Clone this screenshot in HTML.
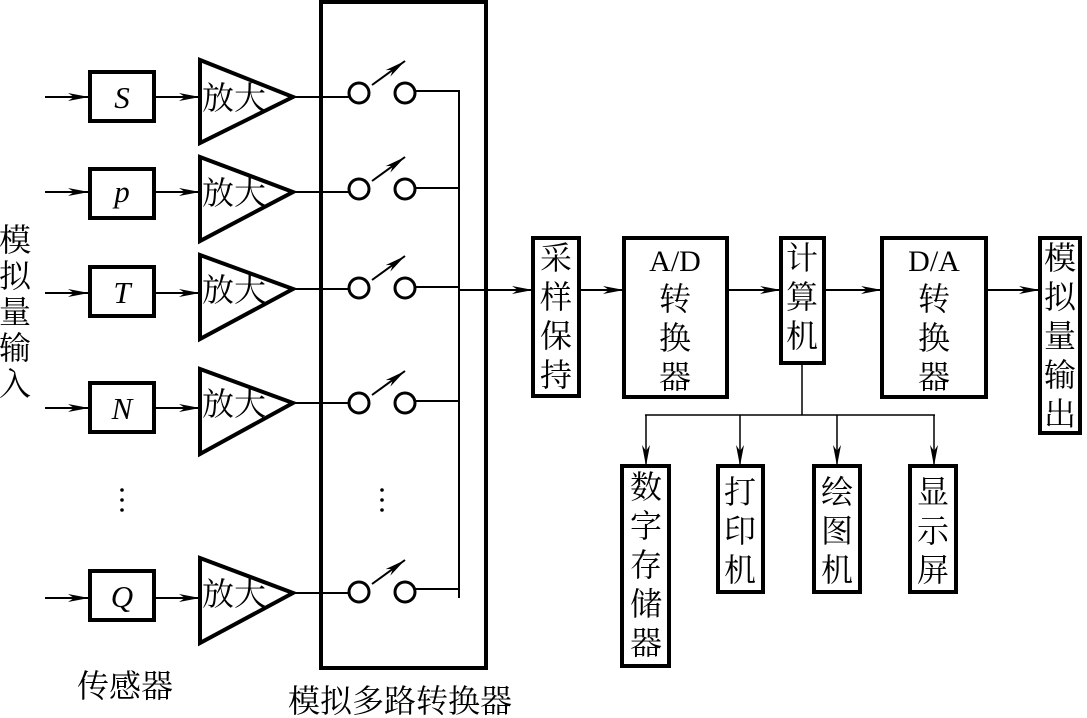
<!DOCTYPE html>
<html><head><meta charset="utf-8"><style>
html,body{margin:0;padding:0;background:#fff;}
svg{display:block;}
.c{font-family:"Liberation Serif","Noto Serif CJK SC","Noto Sans CJK SC",serif;font-size:32px;fill:#000;}
.i{font-family:"Liberation Serif",serif;font-style:italic;font-size:31px;fill:#000;}
.r{font-family:"Liberation Serif",serif;font-size:30px;fill:#000;}
</style></head><body>
<svg width="1087" height="718" viewBox="0 0 1087 718" xmlns="http://www.w3.org/2000/svg">
<defs>
<marker id="a" markerWidth="22" markerHeight="10" refX="21" refY="5" orient="auto" markerUnits="userSpaceOnUse">
<path d="M0,1 L21,5 L0,9 L6,5 Z" fill="#000"/></marker>
</defs>
<g stroke="#000" fill="none">
<rect x="321" y="2" width="165" height="666" stroke-width="4"/>
<line x1="459" y1="90" x2="459" y2="598" stroke-width="2"/>
<line x1="459" y1="290" x2="533" y2="290" stroke-width="2" marker-end="url(#a)"/>
</g>
<g stroke="#000" fill="none">
<line x1="45" y1="97" x2="89" y2="97" stroke-width="2" marker-end="url(#a)"/>
<rect x="90" y="72" width="64" height="49" stroke-width="4"/>
<line x1="155" y1="97" x2="200" y2="97" stroke-width="2" marker-end="url(#a)"/>
<polygon points="200,60 200,143 293,97" stroke-width="4"/>
<line x1="293" y1="97" x2="349" y2="97" stroke-width="2"/>
<circle cx="359" cy="93" r="10" stroke-width="3"/>
<circle cx="405" cy="93" r="10" stroke-width="3"/>
<line x1="415" y1="91" x2="459" y2="91" stroke-width="2"/>
<line x1="372" y1="85" x2="405" y2="61" stroke-width="2" marker-end="url(#a)"/>

<line x1="45" y1="192" x2="89" y2="192" stroke-width="2" marker-end="url(#a)"/>
<rect x="90" y="169" width="64" height="49" stroke-width="4"/>
<line x1="155" y1="192" x2="200" y2="192" stroke-width="2" marker-end="url(#a)"/>
<polygon points="200,157 200,241 293,192" stroke-width="4"/>
<line x1="293" y1="192" x2="349" y2="192" stroke-width="2"/>
<circle cx="359" cy="189" r="10" stroke-width="3"/>
<circle cx="405" cy="189" r="10" stroke-width="3"/>
<line x1="415" y1="188" x2="459" y2="188" stroke-width="2"/>
<line x1="372" y1="181" x2="405" y2="157" stroke-width="2" marker-end="url(#a)"/>

<line x1="45" y1="293" x2="89" y2="293" stroke-width="2" marker-end="url(#a)"/>
<rect x="90" y="267" width="64" height="49" stroke-width="4"/>
<line x1="155" y1="293" x2="200" y2="293" stroke-width="2" marker-end="url(#a)"/>
<polygon points="200,255 200,339 293,289" stroke-width="4"/>
<line x1="293" y1="289" x2="349" y2="289" stroke-width="2"/>
<circle cx="359" cy="288" r="10" stroke-width="3"/>
<circle cx="405" cy="288" r="10" stroke-width="3"/>
<line x1="415" y1="287" x2="459" y2="287" stroke-width="2"/>
<line x1="372" y1="280" x2="405" y2="256" stroke-width="2" marker-end="url(#a)"/>

<line x1="45" y1="408" x2="89" y2="408" stroke-width="2" marker-end="url(#a)"/>
<rect x="90" y="383" width="64" height="49" stroke-width="4"/>
<line x1="155" y1="408" x2="200" y2="408" stroke-width="2" marker-end="url(#a)"/>
<polygon points="200,369 200,454 293,403" stroke-width="4"/>
<line x1="293" y1="403" x2="349" y2="403" stroke-width="2"/>
<circle cx="359" cy="403" r="10" stroke-width="3"/>
<circle cx="405" cy="403" r="10" stroke-width="3"/>
<line x1="415" y1="401" x2="459" y2="401" stroke-width="2"/>
<line x1="372" y1="395" x2="405" y2="371" stroke-width="2" marker-end="url(#a)"/>

<line x1="45" y1="598" x2="89" y2="598" stroke-width="2" marker-end="url(#a)"/>
<rect x="90" y="571" width="64" height="49" stroke-width="4"/>
<line x1="155" y1="598" x2="200" y2="598" stroke-width="2" marker-end="url(#a)"/>
<polygon points="200,558 200,643 293,593" stroke-width="4"/>
<line x1="293" y1="593" x2="349" y2="593" stroke-width="2"/>
<circle cx="359" cy="592" r="10" stroke-width="3"/>
<circle cx="405" cy="592" r="10" stroke-width="3"/>
<line x1="415" y1="589" x2="459" y2="589" stroke-width="2"/>
<line x1="372" y1="584" x2="405" y2="560" stroke-width="2" marker-end="url(#a)"/>
</g>
<g fill="#000">
<circle cx="122" cy="490" r="1.8"/><circle cx="122" cy="500" r="1.8"/><circle cx="122" cy="510" r="1.8"/>
<circle cx="382" cy="490" r="1.8"/><circle cx="382" cy="500" r="1.8"/><circle cx="382" cy="510" r="1.8"/>
</g>
<text class="i" x="122" y="108" text-anchor="middle">S</text>
<text class="i" x="122" y="202" text-anchor="middle">p</text>
<text class="i" x="122" y="303" text-anchor="middle">T</text>
<text class="i" x="122" y="419" text-anchor="middle">N</text>
<text class="i" x="122" y="607" text-anchor="middle">Q</text>
<g class="c">
<text x="202" y="109">放大</text>
<text x="202" y="204">放大</text>
<text x="202" y="301">放大</text>
<text x="202" y="415">放大</text>
<text x="202" y="605">放大</text>
</g>
<g class="c" text-anchor="middle">
<text x="15" y="251">模</text><text x="15" y="287">拟</text><text x="15" y="323">量</text><text x="15" y="359">输</text><text x="15" y="395">入</text>
<text x="125" y="697">传感器</text>
<text x="400" y="712">模拟多路转换器</text>
</g>
<g stroke="#000" fill="none">
<rect x="533" y="238" width="46" height="158" stroke-width="4"/>
<rect x="624" y="238" width="103" height="159" stroke-width="4"/>
<rect x="781" y="238" width="43" height="125" stroke-width="4"/>
<rect x="882" y="238" width="104" height="159" stroke-width="4"/>
<rect x="1040" y="238" width="40" height="195" stroke-width="4"/>
<line x1="579" y1="290" x2="624" y2="290" stroke-width="2" marker-end="url(#a)"/>
<line x1="727" y1="290" x2="781" y2="290" stroke-width="2" marker-end="url(#a)"/>
<line x1="824" y1="290" x2="882" y2="290" stroke-width="2" marker-end="url(#a)"/>
<line x1="986" y1="290" x2="1040" y2="290" stroke-width="2" marker-end="url(#a)"/>
<line x1="802" y1="363" x2="802" y2="415" stroke-width="1.5"/>
<line x1="645" y1="415" x2="935" y2="415" stroke-width="1.5"/>
<line x1="646" y1="415" x2="646" y2="466" stroke-width="1.5" marker-end="url(#a)"/>
<line x1="740" y1="415" x2="740" y2="466" stroke-width="1.5" marker-end="url(#a)"/>
<line x1="837" y1="415" x2="837" y2="466" stroke-width="1.5" marker-end="url(#a)"/>
<line x1="934" y1="415" x2="934" y2="466" stroke-width="1.5" marker-end="url(#a)"/>
<rect x="622" y="466" width="47" height="200" stroke-width="4"/>
<rect x="718" y="466" width="45" height="126" stroke-width="4"/>
<rect x="814" y="466" width="46" height="126" stroke-width="4"/>
<rect x="910" y="466" width="46" height="126" stroke-width="4"/>
</g>
<g class="c" text-anchor="middle">
<text x="556" y="269">采</text><text x="556" y="308">样</text><text x="556" y="347">保</text><text x="556" y="386">持</text>
<text class="r" x="675" y="271">A/D</text><text x="675" y="310">转</text><text x="675" y="349">换</text><text x="675" y="388">器</text>
<text x="802" y="269">计</text><text x="802" y="308">算</text><text x="802" y="347">机</text>
<text class="r" x="934" y="271">D/A</text><text x="934" y="310">转</text><text x="934" y="349">换</text><text x="934" y="388">器</text>
<text x="1060" y="269">模</text><text x="1060" y="308">拟</text><text x="1060" y="347">量</text><text x="1060" y="386">输</text><text x="1060" y="425">出</text>
<text x="646" y="498">数</text><text x="646" y="537">字</text><text x="646" y="576">存</text><text x="646" y="615">储</text><text x="646" y="654">器</text>
<text x="740" y="503">打</text><text x="740" y="542">印</text><text x="740" y="581">机</text>
<text x="837" y="503">绘</text><text x="837" y="542">图</text><text x="837" y="581">机</text>
<text x="933" y="503">显</text><text x="933" y="542">示</text><text x="933" y="581">屏</text>
</g>
</svg>
</body></html>
